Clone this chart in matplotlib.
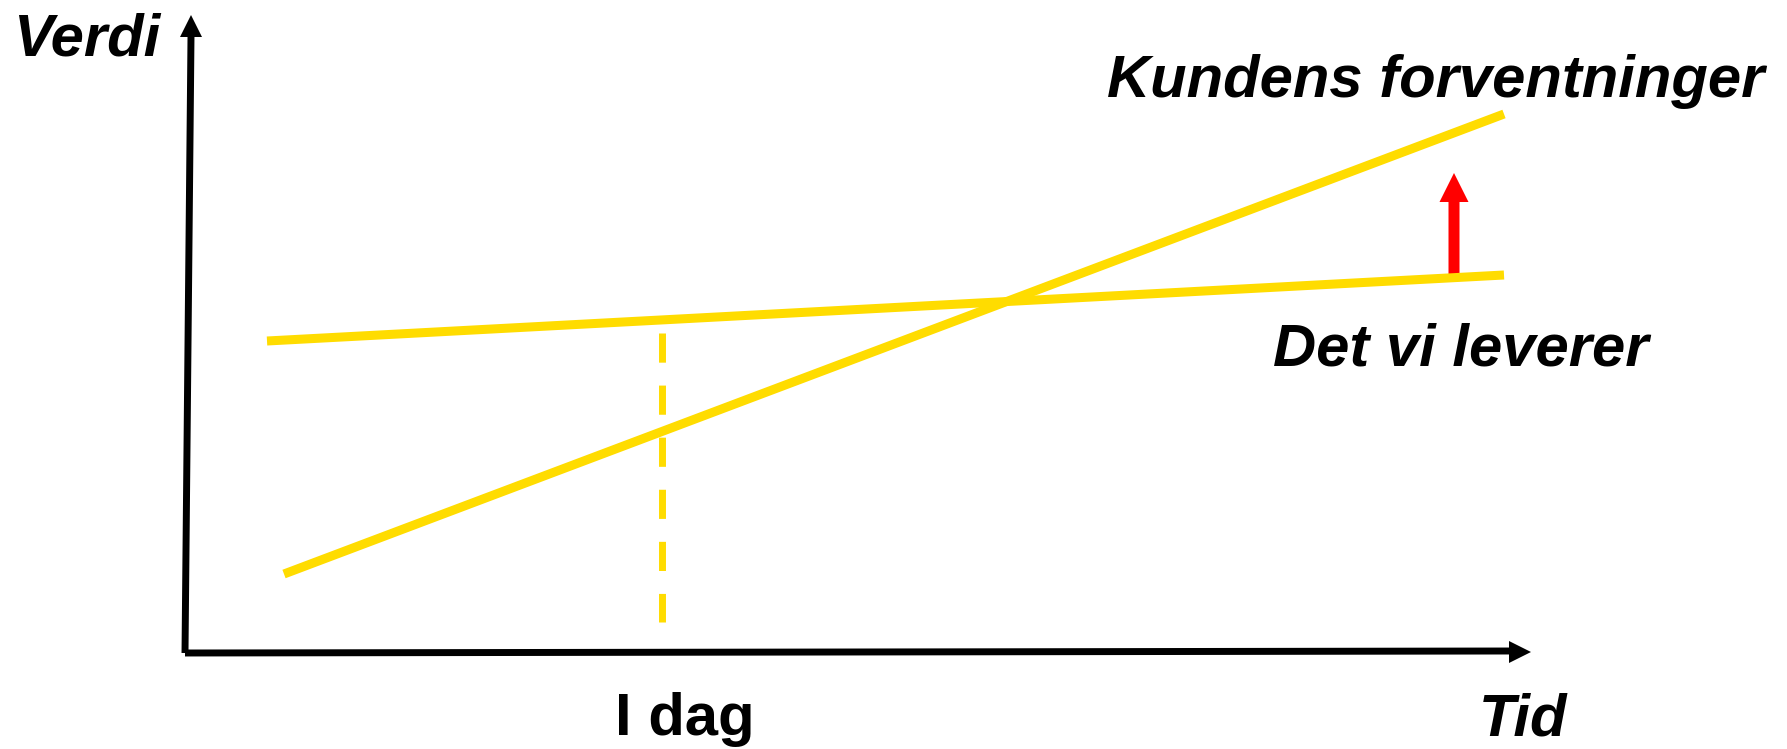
import matplotlib
matplotlib.use("Agg")
import matplotlib.pyplot as plt
from matplotlib.patches import FancyArrow

plt.rcParams['font.family'] = ['Liberation Sans', 'DejaVu Sans']

# pixel-space coordinates (y grows downward)
kunde_x = [284, 1504]
kunde_y = [574, 114]
levert_x = [267, 1504]
levert_y = [341, 275]
idag_x = [662, 662]
idag_y = [333, 622]
gap_x = 1454
gap_y = [276, 173]

yellow = "#FFDC00"

fig = plt.figure(figsize=(17.87, 7.49), dpi=100)
ax = fig.add_axes([0, 0, 1, 1])
ax.set_xlim(0, 1787)
ax.set_ylim(749, 0)
ax.axis("off")

# axes
ax.plot([185, 1512], [653, 651], color="black", lw=5, solid_capstyle="butt")
ax.plot([185, 191], [653, 36], color="black", lw=5, solid_capstyle="butt")
ax.fill([1509, 1531, 1509], [641, 652, 663], color="black", lw=0)
ax.fill([180, 191, 202], [37, 15, 37], color="black", lw=0)

# lines
ax.plot(kunde_x, kunde_y, color=yellow, lw=6.5, solid_capstyle="butt")
ax.plot(levert_x, levert_y, color=yellow, lw=6.5, solid_capstyle="butt")
ax.plot(idag_x, idag_y, color=yellow, lw=5, linestyle=(0, (4.2, 3.3)))

# red arrow
ax.add_patch(FancyArrow(gap_x, gap_y[0], 0, gap_y[1] - gap_y[0], width=11,
                        head_width=29, head_length=29, length_includes_head=True,
                        color="red", lw=0))

bi = dict(fontsize=43, fontweight="bold", fontstyle="italic", color="black")
ax.text(13, 56, "Verdi", ha="left", va="baseline", **bi)
ax.text(1107, 97, "Kundens forventninger", ha="left", va="baseline", **bi)
ax.text(1273, 366, "Det vi leverer", ha="left", va="baseline", **bi)
ax.text(1479, 736, "Tid", ha="left", va="baseline", **bi)
ax.text(615, 735, "I dag", ha="left", va="baseline", fontsize=43,
        fontweight="bold", color="black")

fig.savefig("out.png", dpi=100)
